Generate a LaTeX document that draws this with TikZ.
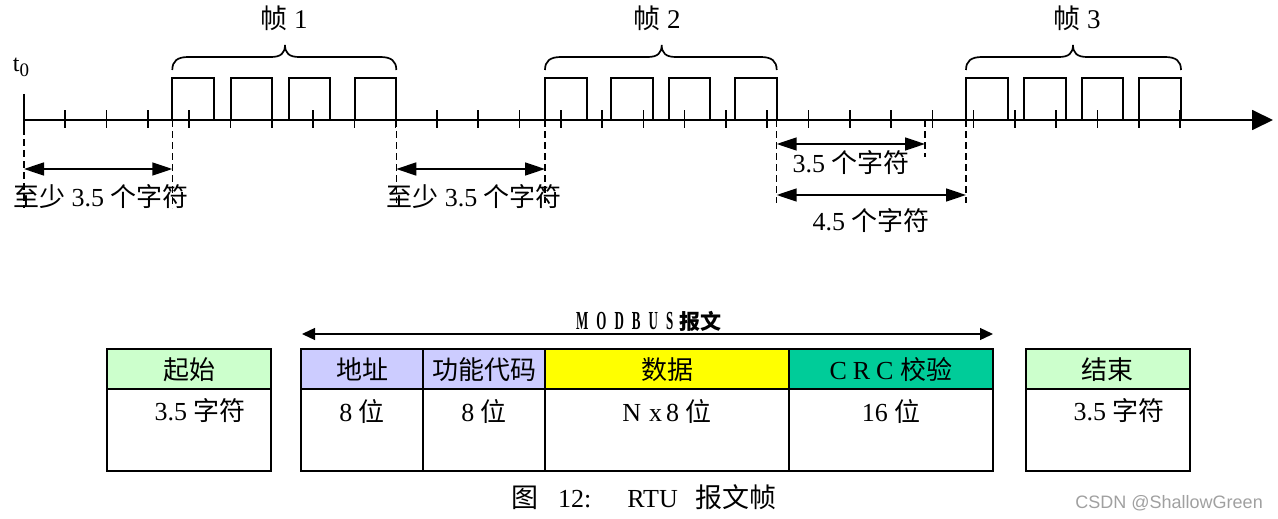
\documentclass[tikz,border=0pt]{standalone}
\usepackage{fontspec}
\setmainfont{Liberation Serif}
\newfontfamily\cjk{Noto Sans CJK SC}
\newfontfamily\wmfont{Liberation Sans}
\newfontfamily\condbold[FakeStretch=0.5]{Liberation Serif Bold}
\usetikzlibrary{arrows.meta}
\definecolor{hdrgreen}{HTML}{CCFFCC}
\definecolor{hdrblue}{HTML}{CCCCFF}
\definecolor{hdryellow}{HTML}{FFFF00}
\definecolor{hdrcrc}{HTML}{00CC99}
\definecolor{wmgray}{HTML}{A0A0A0}
\newcommand\framebrace[3]{%
  \draw[bracestyle] (#1,70) .. controls (#1,61) and (#1+5,57) .. (#1+16,57) -- (#2-14,57)
    .. controls (#2-4,57) and (#2,53) .. (#2,45)
    .. controls (#2,53) and (#2+4,57) .. (#2+14,57) -- (#3-16,57)
    .. controls (#3-5,57) and (#3,61) .. (#3,70);}
\begin{document}
\begin{tikzpicture}[x=1pt,y=-1pt,
  axisline/.style={line width=1.8pt},
  tickmark/.style={line width=1.6pt},
  pulse/.style={line width=1.8pt},
  bracestyle/.style={line width=1.7pt},
  guide/.style={line width=1.3pt, dash pattern=on 7pt off 4pt},
  dimarrow/.style={line width=1.6pt, {Triangle[length=20pt,width=13pt]}-{Triangle[length=20pt,width=13pt]}},
  msgarrow/.style={line width=1.3pt, {Triangle[length=13pt,width=12pt]}-{Triangle[length=13pt,width=12pt]}},
  lbl/.style={inner sep=0pt, font=\fontsize{26}{28}\selectfont},
  framelbl/.style={inner sep=0pt, font=\fontsize{27}{29}\selectfont},
  hcell/.style={draw, line width=2pt, inner sep=0pt, outer sep=0pt, minimum height=40pt, font=\fontsize{26}{28}\selectfont},
  bcell/.style={draw, line width=2pt, inner sep=0pt, outer sep=0pt, minimum height=81.7pt},
]
\useasboundingbox (0,0) rectangle (1278,519);

% ---------------- time axis ----------------
\coordinate (t0) at (24,120);
\coordinate (axend) at (1273,120);
\draw[axisline,-{Triangle[length=21pt,width=20pt]}] (t0) -- (axend);
\draw[tickmark] (24,94) -- (24,128);
\foreach \k in {1,...,28} {
  \draw[tickmark] ({24+41.29*\k},110) -- ({24+41.29*\k},128);
}
\node[inner sep=0pt, font=\fontsize{24}{26}\selectfont] (t0lbl) at (21,67) {t\raisebox{-5pt}{\fontsize{19}{20}\selectfont 0}};

% pulses
\foreach \a/\b in {172.3/214.3, 230.7/272.3, 288.7/330.3, 354.7/396.3,
                   545/586.7, 611/652.7, 668.7/710.3, 735/776.7,
                   966/1007.7, 1024/1065.7, 1082/1123.3, 1139.3/1181} {
  \draw[pulse] (\a,120) -- (\a,78) -- (\b,78) -- (\b,120);
}

% braces and frame labels
\framebrace{172.3}{285}{396.3}
\framebrace{545}{661.7}{776.7}
\framebrace{966}{1073}{1181}
\node[framelbl] (f1) at (284,18) {{\cjk 帧} 1};
\node[framelbl] (f2) at (657,18) {{\cjk 帧} 2};
\node[framelbl] (f3) at (1077,18) {{\cjk 帧} 3};

% dashed guides
\draw[guide] (24,128) -- (24,208);
\draw[guide] (172.3,120) -- (172.3,208);
\draw[guide] (396.3,120) -- (396.3,203);
\draw[guide] (545,120) -- (545,203);
\draw[guide] (776.7,120) -- (776.7,203);
\draw[guide] (925,120) -- (925,157);
\draw[guide] (966,120) -- (966,203);

% dimension arrows
\coordinate (d1a) at (24,169);   \coordinate (d1b) at (172.3,169);
\coordinate (d2a) at (396.3,169);\coordinate (d2b) at (545,169);
\coordinate (d3a) at (776.7,144);\coordinate (d3b) at (925,144);
\coordinate (d4a) at (776.7,195);\coordinate (d4b) at (966,195);
\draw[dimarrow] (d1a) -- (d1b);
\draw[dimarrow] (d2a) -- (d2b);
\draw[dimarrow] (d3a) -- (d3b);
\draw[dimarrow] (d4a) -- (d4b);
\node[lbl] (l1) at (101,197) {{\cjk 至少} 3.5 {\cjk 个字符}};
\node[lbl] (l2) at (474,197) {{\cjk 至少} 3.5 {\cjk 个字符}};
\node[lbl] (l3) at (851,163) {3.5 {\cjk 个字符}};
\node[lbl] (l4) at (871,221) {4.5 {\cjk 个字符}};

% ---------------- message table ----------------
\coordinate (ma) at (302,334);
\coordinate (mb) at (993,334);
\draw[msgarrow] (ma) -- (mb);
\node[inner sep=0pt, anchor=west] (modbus) at (576,321)
  {\condbold\fontsize{26}{27}\selectfont M\hspace{8pt}O\hspace{8pt}D\hspace{8pt}B\hspace{8pt}U\hspace{8pt}S\hspace{6pt}{\cjk\bfseries\fontsize{21}{22}\selectfont 报文}};

% start block
\node[hcell, fill=hdrgreen, minimum width=163.4pt] (hstart) at (189,369.3) {\cjk 起始};
\node[bcell, minimum width=163.4pt] (bstart) at (189,430.2) {};
% main blocks
\node[hcell, fill=hdrblue, minimum width=122pt] (haddr) at (362.3,369.3) {\cjk 地址};
\node[hcell, fill=hdrblue, minimum width=122pt] (hfunc) at (484.3,369.3) {\cjk 功能代码};
\node[hcell, fill=hdryellow, minimum width=243.3pt] (hdata) at (667,369.3) {\cjk 数据};
\node[hcell, fill=hdrcrc, minimum width=204.4pt] (hcrc) at (890.8,369.3) {C\hspace{6pt}R\hspace{6pt}C {\cjk 校验}};
\node[bcell, minimum width=122pt] (baddr) at (362.3,430.2) {};
\node[bcell, minimum width=122pt] (bfunc) at (484.3,430.2) {};
\node[bcell, minimum width=243.3pt] (bdata) at (667,430.2) {};
\node[bcell, minimum width=204.4pt] (bcrc) at (890.8,430.2) {};
% end block
\node[hcell, fill=hdrgreen, minimum width=163.7pt] (hend) at (1107.9,369.3) {\cjk 结束};
\node[bcell, minimum width=163.7pt] (bend) at (1107.9,430.2) {};

% body texts
\node[lbl] (tstart) at (200,411) {3.5 {\cjk 字符}};
\node[lbl] (taddr) at (362,411) {8 {\cjk 位}};
\node[lbl] (tfunc) at (484,411) {8 {\cjk 位}};
\node[lbl] (tdata) at (667,411) {N\hspace{8pt}x\hspace{4pt}8 {\cjk 位}};
\node[lbl] (tcrc) at (891,411) {16 {\cjk 位}};
\node[lbl] (tend) at (1119,411) {3.5 {\cjk 字符}};

% caption
\node[inner sep=0pt, anchor=west, font=\fontsize{26}{28}\selectfont] (caption) at (511,497)
  {{\cjk\fontsize{27}{28}\selectfont 图}\hspace{20pt}12:\hspace{36pt}RTU\hspace{18pt}{\cjk\fontsize{27}{28}\selectfont 报文帧}};

% watermark
\node[inner sep=0pt, anchor=east, text=wmgray, font=\wmfont\fontsize{18}{20}\selectfont] (wm) at (1263,503) {CSDN @ShallowGreen};
\end{tikzpicture}
\end{document}
